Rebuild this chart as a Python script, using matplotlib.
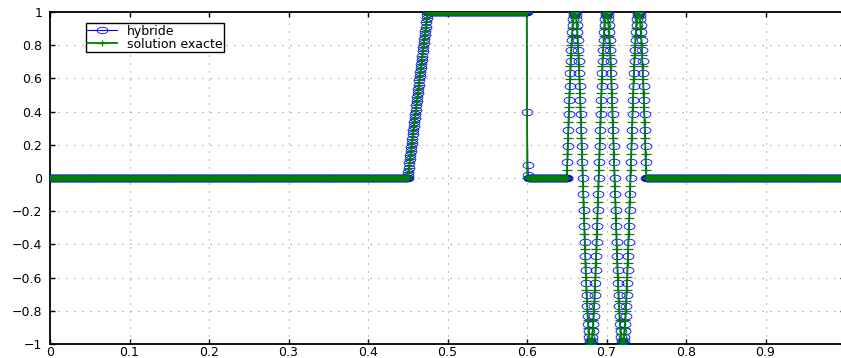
import numpy as np
import matplotlib
matplotlib.use("Agg")
import matplotlib.pyplot as plt
from matplotlib.path import Path
from matplotlib.markers import MarkerStyle
from matplotlib.transforms import Affine2D
from matplotlib.ticker import FixedLocator, FuncFormatter

# ---- mesh -------------------------------------------------------------
n_cells = 1600
x = (np.arange(n_cells) + 0.5) / n_cells

# ---- exact profile, piece by piece (values at the mesh points) -------
n_left_zero = 720      # 0     -> 0.45
ramp_up = [0.0125, 0.0375, 0.0625, 0.0875, 0.1125, 0.1375, 0.1625, 0.1875,
           0.2125, 0.2375, 0.2625, 0.2875, 0.3125, 0.3375, 0.3625, 0.3875,
           0.4125, 0.4375, 0.4625, 0.4875, 0.5125, 0.5375, 0.5625, 0.5875,
           0.6125, 0.6375, 0.6625, 0.6875, 0.7125, 0.7375, 0.7625, 0.7875,
           0.8125, 0.8375, 0.8625, 0.8875, 0.9125, 0.9375, 0.9625, 0.9875]
n_plateau = 200        # 0.475 -> 0.6
n_mid_zero = 80        # 0.6   -> 0.65
quarter_wave = [0.049, 0.147, 0.243, 0.337, 0.428, 0.514, 0.596, 0.672,
                0.741, 0.803, 0.858, 0.904, 0.942, 0.971, 0.990, 0.999]
n_right_zero = 400     # 0.75  -> 1

# ---- hybrid scheme: smeared jump after 0.6, wave lagging half a cell --
hybrid_jump = [0.40, 0.08, 0.02]
hybrid_rise = [0.0, 0.098, 0.195, 0.290, 0.383, 0.471, 0.556, 0.634,
               0.707, 0.773, 0.831, 0.882, 0.924, 0.957, 0.981, 0.995]
hybrid_fall = [1.0, 0.995, 0.981, 0.957, 0.924, 0.882, 0.831, 0.773,
               0.707, 0.634, 0.556, 0.471, 0.383, 0.290, 0.195, 0.098]


def packet(rise, fall):
    rise, fall = np.asarray(rise), np.asarray(fall)
    return np.concatenate([rise, fall, -rise, -fall,
                           rise, fall, -rise, -fall,
                           rise, fall])


def assemble(wave):
    return np.concatenate([np.zeros(n_left_zero), ramp_up,
                           np.ones(n_plateau), np.zeros(n_mid_zero), wave,
                           np.zeros(n_right_zero)])


q = np.array(quarter_wave)
exact = assemble(packet(q, q[::-1]))
hybrid = assemble(packet(hybrid_rise, hybrid_fall))
jump_index = n_left_zero + len(ramp_up) + n_plateau
hybrid[jump_index:jump_index + len(hybrid_jump)] = hybrid_jump

# ---- markers: wide flat circle and wide flat plus ---------------------
ellipse = Path.unit_circle().transformed(Affine2D().scale(1.0, 0.6))
plus = Path([(-1, 0), (1, 0), (0, -0.6), (0, 0.6)],
            [Path.MOVETO, Path.LINETO, Path.MOVETO, Path.LINETO])

W, H = 841, 358
fig = plt.figure(figsize=(W / 100, H / 100), dpi=100)
ax = fig.add_axes([50 / W, (H - 344) / H, (845 - 50) / W, 332 / H])

blue = (0, 0, 1)
green = (0, 0.5, 0)
font = ["DejaVu Sans"]

ax.plot(x, hybrid, color=blue, lw=0.8, marker=MarkerStyle(ellipse),
        markersize=7.8, markerfacecolor="none", markeredgecolor=blue,
        markeredgewidth=0.6, label="hybride", zorder=3)
ax.plot(x, exact, color=green, lw=1.3, marker=MarkerStyle(plus),
        markersize=7.2, markeredgecolor=green, markeredgewidth=0.9,
        label="solution exacte", zorder=4)

ax.set_xlim(0, 1)
ax.set_ylim(-1, 1)

x_ticks = [0, 0.1, 0.2, 0.3, 0.4, 0.5, 0.6, 0.7, 0.8, 0.9]
y_ticks = [-1, -0.8, -0.6, -0.4, -0.2, 0, 0.2, 0.4, 0.6, 0.8, 1]
ax.xaxis.set_major_locator(FixedLocator(x_ticks))
ax.yaxis.set_major_locator(FixedLocator(y_ticks))
fmt = FuncFormatter(lambda v, p: ("%g" % round(v, 2)).replace("-", "\u2212"))
ax.xaxis.set_major_formatter(fmt)
ax.yaxis.set_major_formatter(fmt)

for lab in ax.get_xticklabels() + ax.get_yticklabels():
    lab.set_fontfamily(font)
    lab.set_fontsize(9)

ax.tick_params(direction="in", length=3.5, width=1.0, top=True, right=True,
               colors="black")
ax.tick_params(axis="x", pad=1.5)
ax.tick_params(axis="y", pad=5.5)
for s in ax.spines.values():
    s.set_linewidth(1.3)
    s.set_color("black")

ax.grid(True, color="#8a8a8a", linewidth=0.8, linestyle=(0, (1, 6.2)))
ax.set_axisbelow(True)

leg = ax.legend(loc="upper left", bbox_to_anchor=(0.045, 0.966),
                prop={"family": font, "size": 9},
                frameon=True, fancybox=False, shadow=False, framealpha=1,
                edgecolor="black", borderpad=0.1, labelspacing=0.0,
                handlelength=2.4, handletextpad=0.8, borderaxespad=0)
leg.get_frame().set_linewidth(1.0)
for h in leg.legend_handles:
    h.set_markevery([1])

fig.savefig("out.png", dpi=100)
